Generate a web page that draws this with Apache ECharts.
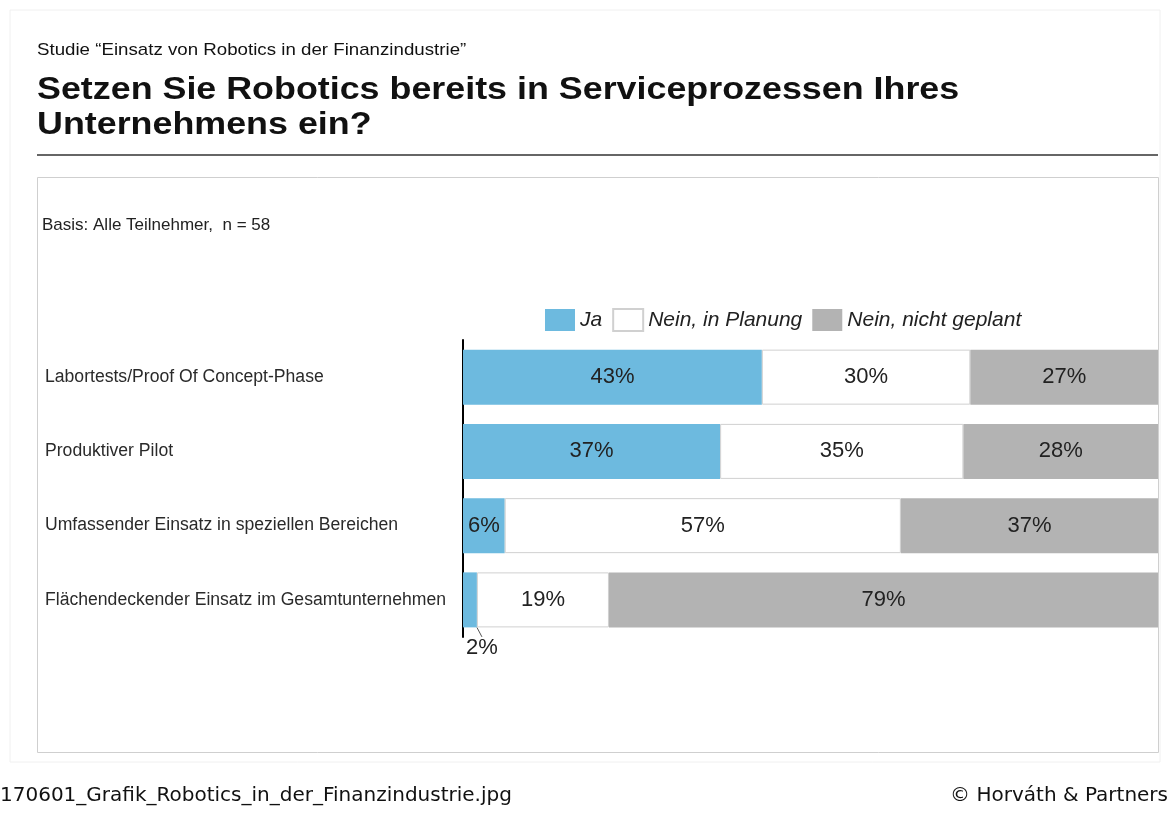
<!DOCTYPE html>
<html>
<head>
<meta charset="utf-8">
<script src="https://cdn.jsdelivr.net/npm/echarts@6/dist/echarts.min.js"></script>
<style>
  html, body { margin: 0; padding: 0; background: #fff; }
  #chart { width: 1170px; height: 816px; }
</style>
</head>
<body>
<div id="chart"></div>
<script>
// Kategorien (von oben nach unten)
const categories = [
  "Labortests/Proof Of Concept-Phase",
  "Produktiver Pilot",
  "Umfassender Einsatz in speziellen Bereichen",
  "Flächendeckender Einsatz im Gesamtunternehmen",
];
const seriesNames = ["Ja", "Nein, in Planung", "Nein, nicht geplant"];
const ja = [43, 37, 6, 2];
const inPlanung = [30, 35, 57, 19];
const nichtGeplant = [27, 28, 37, 79];

const colors = ["#6dbadf", "#ffffff", "#b3b3b3"];
const FONT = "'Liberation Sans', Arial, sans-serif";

const chart = echarts.init(document.getElementById("chart"));

const labelStyle = {
  show: true,
  position: "inside",
  formatter: "{c}%",
  color: "#222",
  fontSize: 22,
  fontFamily: FONT,
};

const option = {
  backgroundColor: "#fff",
  animation: false,
  textStyle: { fontFamily: FONT },
  graphic: [
    {
      type: "rect",
      shape: { x: 10, y: 10, width: 1150, height: 752 },
      style: { fill: "none", stroke: "#f0f0f0", lineWidth: 1 },
    },
    {
      type: "text",
      x: 37,
      y: 42,
      scaleX: 1.1,
      style: {
        text: "Studie \u201cEinsatz von Robotics in der Finanzindustrie\u201d",
        fontSize: 17,
        fontFamily: FONT,
        fill: "#111",
      },
    },
    {
      type: "text",
      x: 37,
      y: 73,
      scaleX: 1.12,
      style: {
        text: "Setzen Sie Robotics bereits in Serviceprozessen Ihres\nUnternehmens ein?",
        fontSize: 32,
        fontWeight: "bold",
        lineHeight: 35,
        fontFamily: FONT,
        fill: "#111",
      },
    },
    {
      type: "line",
      shape: { x1: 37, y1: 155, x2: 1158, y2: 155 },
      style: { stroke: "#666", lineWidth: 2 },
    },
    {
      type: "rect",
      shape: { x: 37.5, y: 177.5, width: 1121, height: 575 },
      style: { fill: "none", stroke: "#cfcfcf", lineWidth: 1 },
    },
    {
      type: "text",
      left: 42,
      top: 217,
      style: {
        text: "Basis: Alle Teilnehmer,  n = 58",
        fontSize: 17,
        fontFamily: FONT,
        fill: "#222",
      },
    },
    {
      type: "text",
      left: 0,
      top: 786,
      style: {
        text: "170601_Grafik_Robotics_in_der_Finanzindustrie.jpg",
        fontSize: 20,
        fontFamily: "'DejaVu Sans', sans-serif",
        fill: "#111",
      },
    },
    {
      type: "text",
      right: 2,
      top: 786,
      style: {
        text: "\u00a9 Horváth & Partners",
        fontSize: 20,
        fontFamily: "'DejaVu Sans', sans-serif",
        fill: "#111",
      },
    },
  ],
  legend: {
    data: seriesNames,
    left: 540,
    top: 303,
    icon: "rect",
    itemWidth: 30,
    itemHeight: 22,
    itemGap: 10,
    textStyle: {
      fontSize: 21,
      fontStyle: "italic",
      fontFamily: FONT,
      color: "#222",
    },
  },
  grid: {
    left: 463,
    right: 12,
    top: 340,
    bottom: 179,
  },
  xAxis: {
    type: "value",
    min: 0,
    max: 100,
    show: false,
  },
  yAxis: {
    type: "category",
    data: categories,
    inverse: true,
    axisTick: { show: false },
    axisLine: { show: true, lineStyle: { color: "#000", width: 2 } },
    axisLabel: {
      align: "left",
      margin: 418,
      fontSize: 17.6,
      color: "#2a2a2a",
      fontFamily: FONT,
    },
  },
  series: [
    {
      name: seriesNames[0],
      type: "bar",
      stack: "total",
      barWidth: 55,
      data: ja,
      itemStyle: { color: colors[0] },
      label: labelStyle,
      labelLayout: (params) =>
        params.dataIndex === 3 ? { dx: 12, dy: 48 } : {},
      labelLine: { show: true, lineStyle: { color: "#555", width: 1 } },
    },
    {
      name: seriesNames[1],
      type: "bar",
      stack: "total",
      barWidth: 55,
      data: inPlanung,
      itemStyle: { color: colors[1], borderColor: "#d0d0d0", borderWidth: 1 },
      label: labelStyle,
    },
    {
      name: seriesNames[2],
      type: "bar",
      stack: "total",
      barWidth: 55,
      data: nichtGeplant,
      itemStyle: { color: colors[2] },
      label: labelStyle,
    },
  ],
};

chart.setOption(option);
</script>
</body>
</html>
